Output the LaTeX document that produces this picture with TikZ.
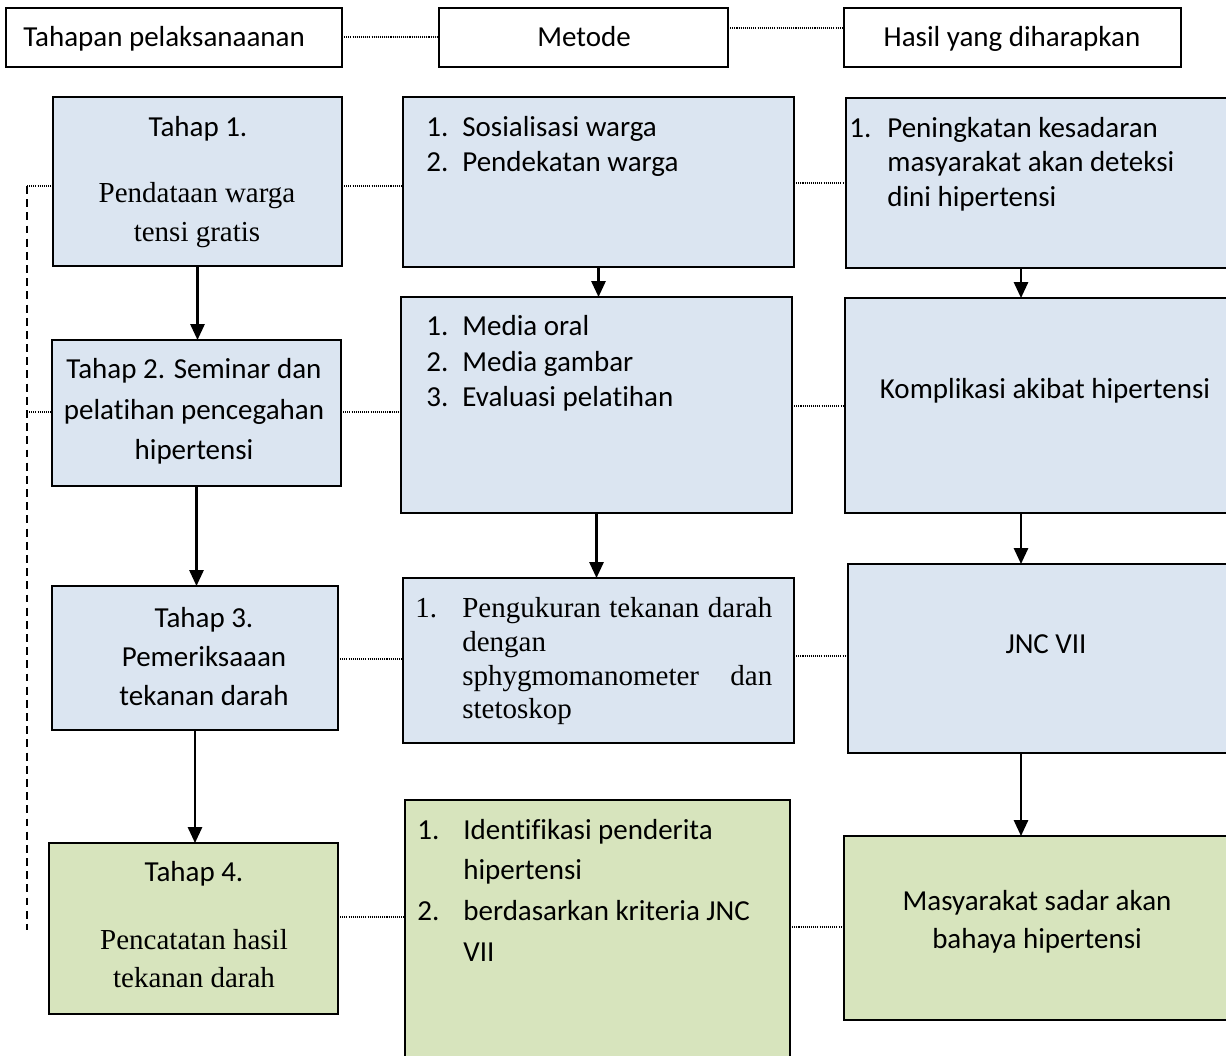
\documentclass[tikz,border=0pt]{standalone}
\usepackage{fontspec}
\setmainfont{Carlito}[Ligatures=NoCommon]
\newfontfamily\tnr{Liberation Serif}
\usetikzlibrary{arrows.meta,fit}
\definecolor{bluefill}{HTML}{DBE5F1}
\definecolor{greenfill}{HTML}{D7E4BD}
\begin{document}
\begin{tikzpicture}[x=0.02cm,y=-0.02cm,
  box/.style={draw=black, line width=1.2pt, inner sep=0pt, outer sep=0pt},
  hdr/.style={box, fill=white},
  bb/.style={box, fill=bluefill},
  gb/.style={box, fill=greenfill},
  ln/.style={anchor=base, inner sep=0pt, font=\fontsize{16.5}{19}\selectfont},
  lnl/.style={ln, anchor=base west},
  sr/.style={anchor=base, inner sep=0pt, font=\fontsize{16.5}{19}\selectfont\tnr},
  srl/.style={sr, anchor=base west},
  link/.style={line width=0.7pt, dash pattern=on 0.6pt off 0.6pt},
  flow/.style={line width=1.3pt, -{Triangle[length=9pt,width=8pt]}},
  vdash/.style={line width=1pt, dash pattern=on 4.5pt off 3pt}
]
\useasboundingbox (0,0) rectangle (1226,1055);
\clip (0,0) rectangle (1226,1055);

% header boxes
\node[hdr, fit={(6,8) (342,67)}] (hA) {};
\node[hdr, fit={(439,8) (728,67)}] (hB) {};
\node[hdr, fit={(844,8) (1181,67)}] (hC) {};
\node[lnl] (thA) at (23,46) {Tahapan pelaksanaanan};
\node[ln] (thB) at (584,46) {Metode};
\node[ln] (thC) at (1012,46) {Hasil yang diharapkan};

% row 1
\node[bb, fit={(53,97) (342,266)}] (A1) {};
\node[bb, fit={(403,97) (794,267)}] (B1) {};
\node[bb, fit={(846,98) (1290,268)}] (C1) {};
\node[ln] (a1t1) at (198,136) {Tahap 1.};
\node[sr] (a1t2) at (197,202) {Pendataan warga};
\node[sr] (a1t3) at (197,241) {tensi gratis};
\node[lnl] (b1n1) at (426,136) {1.};
\node[lnl] (b1t1) at (462,136) {Sosialisasi warga};
\node[lnl] (b1n2) at (426,171) {2.};
\node[lnl] (b1t2) at (462,171) {Pendekatan warga};
\node[lnl] (c1n1) at (849,137) {1.};
\node[lnl] (c1t1) at (887,137) {Peningkatan kesadaran};
\node[lnl] (c1t2) at (887,171) {masyarakat akan deteksi};
\node[lnl] (c1t3) at (887,206) {dini hipertensi};

% row 2
\node[bb, fit={(52,340) (341,486)}] (A2) {};
\node[bb, fit={(401,297) (792,513)}] (B2) {};
\node[bb, fit={(845,298) (1290,513)}] (C2) {};
\node[ln] (a2t1) at (194,378) {Tahap 2. Seminar dan};
\node[ln] (a2t2) at (194,419) {pelatihan pencegahan};
\node[ln] (a2t3) at (194,459) {hipertensi};
\node[lnl] (b2n1) at (426,335) {1.};
\node[lnl] (b2t1) at (462,335) {Media oral};
\node[lnl] (b2n2) at (426,371) {2.};
\node[lnl] (b2t2) at (462,371) {Media gambar};
\node[lnl] (b2n3) at (426,406) {3.};
\node[lnl] (b2t3) at (462,406) {Evaluasi pelatihan};
\node[ln] (c2t1) at (1045,398) {Komplikasi akibat hipertensi};

% row 3
\node[bb, fit={(52,586) (338,730)}] (A3) {};
\node[bb, fit={(403,578) (794,743)}] (B3) {};
\node[bb, fit={(848,564) (1290,753)}] (C3) {};
\node[ln] (a3t1) at (204,627) {Tahap 3.};
\node[ln] (a3t2) at (204,666) {Pemeriksaaan};
\node[ln] (a3t3) at (204,705) {tekanan darah};
\node[srl] (b3n1) at (415,617) {1.};
\node[srl] (b3t1) at (462,617) {\hbox to 6.2cm{Pengukuran\hfil tekanan\hfil darah}};
\node[srl] (b3t2) at (462,651) {dengan};
\node[srl] (b3t3) at (462,685) {\hbox to 6.2cm{sphygmomanometer\hfill dan}};
\node[srl] (b3t4) at (462,718) {stetoskop};
\node[ln] (c3t1) at (1046,653) {JNC VII};

% row 4
\node[gb, fit={(49,843) (338,1014)}] (A4) {};
\node[gb, fit={(405,800) (790,1095)}] (B4) {};
\node[gb, fit={(844,836) (1290,1020)}] (C4) {};
\node[ln] (a4t1) at (194,881) {Tahap 4.};
\node[sr] (a4t2) at (194,949) {Pencatatan hasil};
\node[sr] (a4t3) at (194,987) {tekanan darah};
\node[lnl] (b4n1) at (417,839) {1.};
\node[lnl] (b4t1) at (463,839) {Identifikasi penderita};
\node[lnl] (b4t2) at (463,879) {hipertensi};
\node[lnl] (b4n2) at (417,920) {2.};
\node[lnl] (b4t3) at (463,920) {berdasarkan kriteria JNC};
\node[lnl] (b4t4) at (463,961) {VII};
\node[ln] (c4t1) at (1037,910) {Masyarakat sadar akan};
\node[ln] (c4t2) at (1037,948) {bahaya hipertensi};

% helper coordinates
\coordinate (cx) at (1021,0);
\coordinate (yh1) at (0,37);
\coordinate (yh2) at (0,28);
\coordinate (y1a) at (0,186);
\coordinate (y1b) at (0,183);
\coordinate (y2a) at (0,412);
\coordinate (y2b) at (0,406);
\coordinate (y3a) at (0,659);
\coordinate (y3b) at (0,656);
\coordinate (y4a) at (0,917);
\coordinate (y4b) at (0,927);
\coordinate (dtop) at (27,186);
\coordinate (dbot) at (27,930);

% dotted links
\draw[link] (hA.east |- yh1) -- (hB.west |- yh1);
\draw[link] (hB.east |- yh2) -- (hC.west |- yh2);
\draw[link] (A1.east |- y1a) -- (B1.west |- y1a);
\draw[link] (B1.east |- y1b) -- (C1.west |- y1b);
\draw[link] (A2.east |- y2a) -- (B2.west |- y2a);
\draw[link] (B2.east |- y2b) -- (C2.west |- y2b);
\draw[link] (A3.east |- y3a) -- (B3.west |- y3a);
\draw[link] (B3.east |- y3b) -- (C3.west |- y3b);
\draw[link] (A4.east |- y4a) -- (B4.west |- y4a);
\draw[link] (B4.east |- y4b) -- (C4.west |- y4b);
\draw[link] (dtop) -- (A1.west |- dtop);
\draw[link] (dtop |- y2a) -- (A2.west |- y2a);
\draw[vdash] (dtop) -- (dbot);

% flow arrows
\draw[flow] (A1.south) -- (A1.south |- A2.north);
\draw[flow] (A2.south) -- (A2.south |- A3.north);
\draw[flow] (A3.south) -- (A3.south |- A4.north);
\draw[flow] (B1.south) -- (B1.south |- B2.north);
\draw[flow] (B2.south) -- (B2.south |- B3.north);
\draw[flow] (C1.south -| cx) -- (C2.north -| cx);
\draw[flow] (C2.south -| cx) -- (C3.north -| cx);
\draw[flow] (C3.south -| cx) -- (C4.north -| cx);
\end{tikzpicture}
\end{document}
